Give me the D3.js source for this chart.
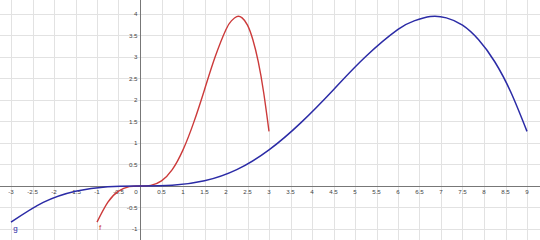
<!DOCTYPE html>
<html>
<head>
<meta charset="utf-8">
<script src="https://cdn.jsdelivr.net/npm/d3@7"></script>
<style>
  html, body { margin: 0; padding: 0; background: #fff; }
  svg { display: block; }
</style>
</head>
<body>
<svg id="chart" width="540" height="240"></svg>
<script>
// Curve f (red)
const fX = [-1, -0.75, -0.5, -0.25, 0, 0.25, 0.5, 0.75, 1, 1.25, 1.5, 1.75, 2, 2.125, 2.25, 2.375, 2.5, 2.625, 2.75, 2.875, 3];
const fY = [-0.84, -0.38, -0.12, -0.015, 0, 0.015, 0.12, 0.38, 0.84, 1.48, 2.24, 3.01, 3.64, 3.84, 3.94, 3.91, 3.74, 3.40, 2.89, 2.18, 1.27];

// Curve g (blue)
const gX = [-3, -2.25, -1.5, -0.75, 0, 0.75, 1.5, 2.25, 3, 3.75, 4.5, 5.25, 6, 6.375, 6.75, 7.125, 7.5, 7.875, 8.25, 8.625, 9];
const gY = [-0.84, -0.38, -0.12, -0.015, 0, 0.015, 0.12, 0.38, 0.84, 1.48, 2.24, 3.01, 3.64, 3.84, 3.94, 3.91, 3.74, 3.40, 2.89, 2.18, 1.27];

// Tick labels
const xTicks = [-3, -2.5, -2, -1.5, -1, -0.5, 0.5, 1, 1.5, 2, 2.5, 3, 3.5, 4, 4.5, 5, 5.5, 6, 6.5, 7, 7.5, 8, 8.5, 9];
const yTicks = [-1, -0.5, 0.5, 1, 1.5, 2, 2.5, 3, 3.5, 4];
const gridX = d3.range(-3, 9.51, 0.5);
const gridY = d3.range(-1, 4.51, 0.5);

const W = 540, H = 240;
const x0 = 140, y0 = 186, unit = 43;
const x = d3.scaleLinear().domain([-x0 / unit, (W - x0) / unit]).range([0, W]);
const y = d3.scaleLinear().domain([-(H - y0) / unit, y0 / unit]).range([H, 0]);

const svg = d3.select("#chart");
svg.append("rect").attr("width", W).attr("height", H).attr("fill", "#fff");

// grid
const grid = svg.append("g").attr("stroke", "#e2e2e2").attr("stroke-width", 1).attr("shape-rendering", "crispEdges");
grid.selectAll("line.v").data(gridX).join("line").attr("class", "v")
  .attr("x1", d => Math.round(x(d)) + 0.5).attr("x2", d => Math.round(x(d)) + 0.5)
  .attr("y1", 0).attr("y2", H);
grid.selectAll("line.h").data(gridY).join("line").attr("class", "h")
  .attr("y1", d => Math.round(y(d)) + 0.5).attr("y2", d => Math.round(y(d)) + 0.5)
  .attr("x1", 0).attr("x2", W);

// axes
const axisColor = "#777";
svg.append("line").attr("x1", 0).attr("x2", W)
  .attr("y1", Math.round(y(0)) + 0.5).attr("y2", Math.round(y(0)) + 0.5)
  .attr("stroke", axisColor).attr("stroke-width", 1).attr("shape-rendering", "crispEdges");
svg.append("line").attr("y1", 0).attr("y2", H)
  .attr("x1", Math.round(x(0)) + 0.5).attr("x2", Math.round(x(0)) + 0.5)
  .attr("stroke", axisColor).attr("stroke-width", 1).attr("shape-rendering", "crispEdges");

const font = "'Liberation Sans', 'DejaVu Sans', sans-serif";
const lab = svg.append("g").attr("font-family", font).attr("font-size", 6.2).attr("fill", "#444");
lab.selectAll("text.xt").data(xTicks).join("text").attr("class", "xt")
  .attr("x", d => x(d)).attr("y", y(0) + 8).attr("text-anchor", "middle").text(d => d);
lab.selectAll("text.yt").data(yTicks).join("text").attr("class", "yt")
  .attr("x", x(0) - 2.5).attr("y", d => y(d) + 2.2).attr("text-anchor", "end").text(d => d);
lab.append("text").attr("x", x(0) - 4).attr("y", y(0) + 8).attr("text-anchor", "middle").text("0");

// curves
const line = d3.line().x(d => x(d[0])).y(d => y(d[1])).curve(d3.curveNatural);
const fData = fX.map((v, i) => [v, fY[i]]);
const gData = gX.map((v, i) => [v, gY[i]]);
const red = "#cc3a3a", blue = "#2b2ba6";
svg.append("path").datum(fData).attr("d", line).attr("fill", "none").attr("stroke", red).attr("stroke-width", 1.4);
svg.append("path").datum(gData).attr("d", line).attr("fill", "none").attr("stroke", blue).attr("stroke-width", 1.5);

// curve labels
svg.append("text").attr("x", 100).attr("y", 229.5).attr("text-anchor", "middle")
  .attr("font-family", font).attr("font-size", 8).attr("fill", red).text("f");
svg.append("text").attr("x", 15.5).attr("y", 230.5).attr("text-anchor", "middle")
  .attr("font-family", font).attr("font-size", 8).attr("fill", blue).text("g");
</script>
</body>
</html>
